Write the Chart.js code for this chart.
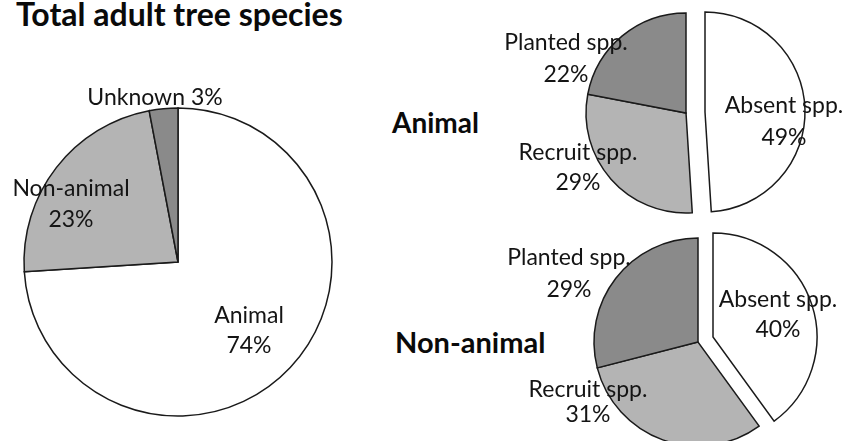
<!DOCTYPE html>
<html>
<head>
<meta charset="utf-8">
<script src="https://cdn.jsdelivr.net/npm/chart.js@4.4.1/dist/chart.umd.min.js"></script>
<style>
    body { margin: 0; background: #fff; }
    #page { position: relative; width: 846px; height: 441px; overflow: hidden; font-family: Lato, "Open Sans", sans-serif; color: #141414; }
    #page canvas { position: absolute; }
    .lbl { position: absolute; white-space: nowrap; text-align: center; transform: translateX(-50%); }
    .bold { font-weight: bold; color: #0a0a0a; transform: none; text-align: left; }
</style>
</head>
<body>
<div id="page">
    <canvas id="totalChart" width="330" height="330"></canvas>
    <canvas id="animalChart" width="220" height="220"></canvas>
    <canvas id="animalAbsent" width="220" height="220"></canvas>
    <canvas id="nonAnimalChart" width="230" height="230"></canvas>
    <canvas id="nonAnimalAbsent" width="230" height="230"></canvas>
</div>
<script>
// data (percent)
var totalCategories = ["Animal", "Non-animal", "Unknown"];
var totalValues = [74, 23, 3];
var groupCategories = ["Absent spp.", "Recruit spp.", "Planted spp."];
var animalValues = [49, 29, 22];
var nonAnimalValues = [40, 31, 29];

var sliceColors = ["#ffffff", "#b4b4b4", "#8a8a8a"];
var edgeColor = "#1a1a1a";
var edgeWidth = 1.5;

// pie centres / radius in page pixels
var totalPie = { x: 178, y: 262, r: 154, size: 330 };
var animalPie = { x: 686, y: 113, r: 100, size: 220, explode: 19 };
var nonAnimalPie = { x: 698, y: 342, r: 104, size: 230, explode: 16 };

function placeCanvas(id, cx, cy, size) {
    var c = document.getElementById(id);
    c.style.left = (cx - size / 2) + "px";
    c.style.top = (cy - size / 2) + "px";
    c.style.width = size + "px";
    c.style.height = size + "px";
    return c;
}

// only: index of the slice to show, hide: index of slice to leave out (-1 = none)
function makePie(canvas, labels, values, radius, only, hide) {
    var bg = [], bw = [];
    for (var i = 0; i < values.length; i++) {
        var visible = (only < 0 || only === i) && hide !== i;
        bg.push(visible ? sliceColors[i] : "rgba(0,0,0,0)");
        bw.push(visible ? edgeWidth : 0);
    }
    return new Chart(canvas, {
        type: "pie",
        data: {
            labels: labels,
            datasets: [{
                data: values,
                backgroundColor: bg,
                borderColor: edgeColor,
                borderWidth: bw,
                borderJoinStyle: "miter"
            }]
        },
        options: {
            responsive: false,
            animation: false,
            radius: radius,
            layout: { padding: 0 },
            events: [],
            plugins: { legend: { display: false }, tooltip: { enabled: false } }
        }
    });
}

function explodedPie(baseId, sliceId, values, pie) {
    makePie(placeCanvas(baseId, pie.x, pie.y, pie.size), groupCategories, values, pie.r, -1, 0);
    // pull the first slice out along its mid angle
    var sum = values.reduce(function (a, b) { return a + b; }, 0);
    var mid = (values[0] / sum) * Math.PI;
    var dx = Math.sin(mid) * pie.explode;
    var dy = -Math.cos(mid) * pie.explode;
    makePie(placeCanvas(sliceId, pie.x + dx, pie.y + dy, pie.size), groupCategories, values, pie.r, 0, -1);
}

makePie(placeCanvas("totalChart", totalPie.x, totalPie.y, totalPie.size), totalCategories, totalValues, totalPie.r, -1, -1);
explodedPie("animalChart", "animalAbsent", animalValues, animalPie);
explodedPie("nonAnimalChart", "nonAnimalAbsent", nonAnimalValues, nonAnimalPie);

// text: x = centre, y = first baseline
function addText(lines, x, y, size, lh, bold) {
    var d = document.createElement("div");
    d.className = bold ? "lbl bold" : "lbl";
    d.style.fontSize = size + "px";
    d.style.lineHeight = lh + "px";
    d.style.left = x + "px";
    d.style.top = (y - (lh / 2 + 0.387 * size)) + "px";
    d.innerHTML = lines.join("<br>");
    document.getElementById("page").appendChild(d);
}

function pct(v) { return v + "%"; }

addText(["Total adult tree species"], 16, 26, 32, 34, true);
addText(["Animal"], 392, 133, 28, 32, true);
addText(["Non-animal"], 395, 353, 29, 32, true);

addText([totalCategories[0], pct(totalValues[0])], 249, 323, 23, 30);
addText([totalCategories[1], pct(totalValues[1])], 71, 196, 23, 31);
addText([totalCategories[2] + " " + pct(totalValues[2])], 155, 105, 23, 30);

addText([groupCategories[2], pct(animalValues[2])], 566, 50, 23, 32);
addText([groupCategories[1], pct(animalValues[1])], 578, 160, 23, 30);
addText([groupCategories[0], pct(animalValues[0])], 784, 113, 23, 32);

addText([groupCategories[2], pct(nonAnimalValues[2])], 569, 265, 23, 32);
addText([groupCategories[1], pct(nonAnimalValues[1])], 588, 397, 23, 25);
addText([groupCategories[0], pct(nonAnimalValues[0])], 778, 307, 23, 30);
</script>
</body>
</html>
